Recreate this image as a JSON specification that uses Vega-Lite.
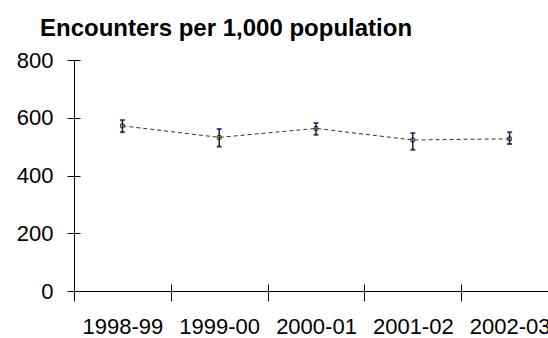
{
  "$schema": "https://vega.github.io/schema/vega-lite/v6.json",
  "autosize": "none",
  "padding": {"left": 74, "top": 60, "right": 0, "bottom": 47},
  "width": 484,
  "height": 231,
  "background": "white",
  "title": {
    "text": "Encounters per 1,000 population",
    "anchor": "start",
    "frame": "group",
    "font": "Liberation Sans",
    "fontSize": 24,
    "fontWeight": "bold",
    "color": "black",
    "dx": -34,
    "offset": 8
  },
  "config": {"view": {"stroke": null}},
  "resolve": {"axis": {"x": "independent", "y": "independent"}},
  "data": {
    "values": [
      {"period": "1998-99", "value": 572, "lo": 550, "hi": 592},
      {"period": "1999-00", "value": 532, "lo": 500, "hi": 561},
      {"period": "2000-01", "value": 563, "lo": 541, "hi": 582},
      {"period": "2001-02", "value": 523, "lo": 489, "hi": 547},
      {"period": "2002-03", "value": 527, "lo": 509, "hi": 550}
    ]
  },
  "layer": [
    {
      "mark": {"type": "line", "color": "#333", "strokeWidth": 1, "strokeDash": [4, 3]},
      "encoding": {
        "x": {
          "field": "period",
          "type": "ordinal",
          "sort": null,
          "scale": {"type": "band", "paddingInner": 0, "paddingOuter": 0},
          "axis": {
            "orient": "bottom",
            "title": null,
            "labelAngle": 0,
            "tickBand": "extent",
            "labelFont": "Liberation Sans",
            "labelFontSize": 22,
            "labelColor": "black",
            "labelPadding": 15,
            "tickSize": 10,
            "tickColor": "black",
            "domainColor": "black",
            "labelOverlap": false,
            "labelBound": false
          }
        },
        "y": {
          "field": "value",
          "type": "quantitative",
          "scale": {"domain": [0, 800], "nice": false, "zero": true},
          "axis": {
            "orient": "left",
            "title": null,
            "values": [0, 200, 400, 600, 800],
            "labelFont": "Liberation Sans",
            "labelFontSize": 22,
            "labelColor": "black",
            "labelPadding": 14,
            "tickSize": 7,
            "tickColor": "black",
            "domainColor": "black",
            "grid": false
          }
        }
      }
    },
    {
      "mark": {"type": "rule", "color": "#222", "strokeWidth": 1.5},
      "encoding": {
        "x": {
          "field": "period",
          "type": "ordinal",
          "sort": null,
          "axis": {
            "orient": "bottom",
            "title": null,
            "tickBand": "extent",
            "labels": false,
            "domain": false,
            "tickSize": -7,
            "tickColor": "black"
          }
        },
        "y": {
          "field": "lo",
          "type": "quantitative",
          "axis": {
            "orient": "left",
            "title": null,
            "values": [0, 200, 400, 600, 800],
            "labels": false,
            "domain": false,
            "tickSize": -6,
            "tickColor": "black",
            "grid": false
          }
        },
        "y2": {"field": "hi"}
      }
    },
    {
      "mark": {"type": "tick", "color": "#000080", "size": 5, "thickness": 2},
      "encoding": {
        "x": {"field": "period", "type": "ordinal", "sort": null, "axis": null},
        "y": {"field": "hi", "type": "quantitative", "axis": null}
      }
    },
    {
      "mark": {"type": "tick", "color": "black", "size": 5, "thickness": 2},
      "encoding": {
        "x": {"field": "period", "type": "ordinal", "sort": null, "axis": null},
        "y": {"field": "lo", "type": "quantitative", "axis": null}
      }
    },
    {
      "mark": {"type": "point", "shape": "square", "size": 14, "filled": false, "stroke": "black", "strokeWidth": 1},
      "encoding": {
        "x": {"field": "period", "type": "ordinal", "sort": null, "axis": null},
        "y": {"field": "value", "type": "quantitative", "axis": null}
      }
    }
  ]
}
